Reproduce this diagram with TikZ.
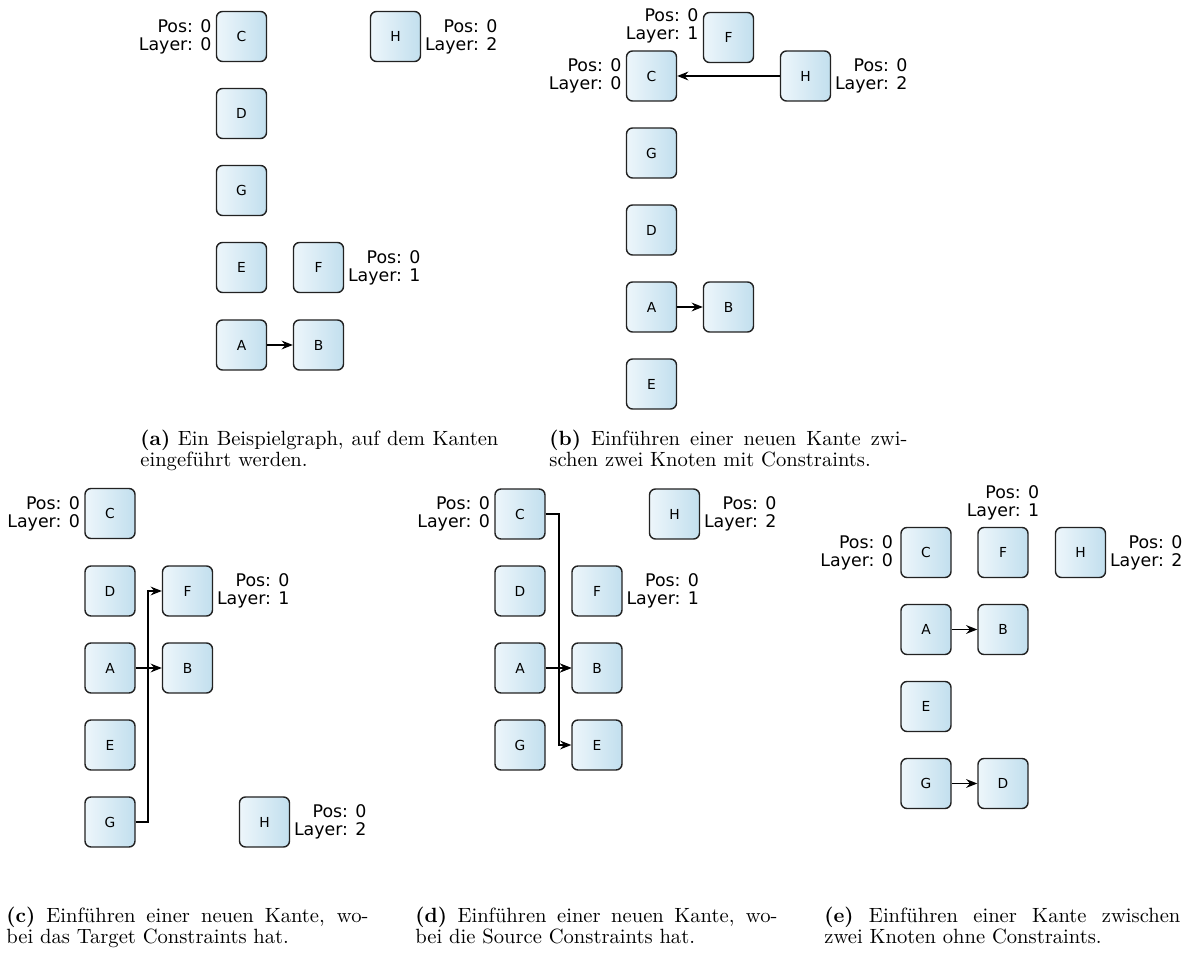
\documentclass[tikz,border=0pt]{standalone}
\usepackage{fontspec}
\newfontfamily\lblfont{DejaVu Sans}
\usetikzlibrary{arrows.meta,calc}
\definecolor{nodeL}{HTML}{EDF6FB}
\definecolor{nodeR}{HTML}{C2DFEE}
\definecolor{nodeBorder}{HTML}{222222}
\begin{document}
\begin{tikzpicture}[x=0.5pt,y=-0.5pt,
  knot/.style={draw=nodeBorder, line width=0.7pt, rounded corners=3pt,
    left color=nodeL, right color=nodeR, minimum width=25pt, minimum height=25pt,
    inner sep=0pt, font=\lblfont\fontsize{6.9}{8}\selectfont},
  info/.style={align=right, inner sep=0pt, font=\lblfont\fontsize{8.7}{9}\selectfont},
  infoL/.style={info, anchor=east, xshift=-2pt},
  infoR/.style={info, anchor=west, xshift=1.7pt},
  infoT/.style={info, anchor=south, yshift=3pt},
  edge/.style={line width=0.8pt, draw=black,
    -{Stealth[length=5.6pt,width=4.4pt,inset=1.9pt]}},
  captext/.style={anchor=base west, inner sep=0pt, font=\fontsize{10.3}{10.5}\selectfont}
]
\useasboundingbox (0,0) rectangle (1195,956);

% ---------- (a) ----------
\node[knot] (aC) at (241.5,36.5) {C};
\node[knot] (aH) at (395.5,36.5) {H};
\node[knot] (aD) at (241.5,113.5) {D};
\node[knot] (aG) at (241.5,190.5) {G};
\node[knot] (aE) at (241.5,267.5) {E};
\node[knot] (aF) at (318.5,267.5) {F};
\node[knot] (aA) at (241.5,345) {A};
\node[knot] (aB) at (318.5,345) {B};
\node[infoL] (aCl) at (aC.west) {Pos: 0\\Layer: 0};
\node[infoR] (aHl) at (aH.east) {Pos: 0\\Layer: 2};
\node[infoR] (aFl) at (aF.east) {Pos: 0\\Layer: 1};
\draw[edge] (aA) -- (aB);

% ---------- (b) ----------
\node[knot] (bC) at (651.5,76) {C};
\node[knot] (bF) at (728.5,37.5) {F};
\node[knot] (bH) at (805.5,76) {H};
\node[knot] (bG) at (651.5,153) {G};
\node[knot] (bD) at (651.5,230) {D};
\node[knot] (bA) at (651.5,307) {A};
\node[knot] (bB) at (728.5,307) {B};
\node[knot] (bE) at (651.5,384) {E};
\node[infoL, yshift=5.8pt] (bFl) at (bF.west) {Pos: 0\\Layer: 1};
\node[infoL] (bCl) at (bC.west) {Pos: 0\\Layer: 0};
\node[infoR] (bHl) at (bH.east) {Pos: 0\\Layer: 2};
\draw[edge] (bH) -- (bC);
\draw[edge] (bA) -- (bB);

% ---------- (c) ----------
\node[knot] (cC) at (110,513.5) {C};
\node[knot] (cD) at (110,591) {D};
\node[knot] (cF) at (187.5,591) {F};
\node[knot] (cA) at (110,668) {A};
\node[knot] (cB) at (187.5,668) {B};
\node[knot] (cE) at (110,745) {E};
\node[knot] (cG) at (110,822) {G};
\node[knot] (cH) at (264.5,822) {H};
\node[infoL] (cCl) at (cC.west) {Pos: 0\\Layer: 0};
\node[infoR] (cFl) at (cF.east) {Pos: 0\\Layer: 1};
\node[infoR] (cHl) at (cH.east) {Pos: 0\\Layer: 2};
\draw[edge] (cA) -- (cB);
\draw[edge] (cG.east) -- ($(cG.east)+(12.3,0)$) |- (cF.west);

% ---------- (d) ----------
\node[knot] (dC) at (520,514) {C};
\node[knot] (dH) at (674.5,514) {H};
\node[knot] (dD) at (520,591) {D};
\node[knot] (dF) at (597,591) {F};
\node[knot] (dA) at (520,668) {A};
\node[knot] (dB) at (597,668) {B};
\node[knot] (dG) at (520,745) {G};
\node[knot] (dE) at (597,745) {E};
\node[infoL] (dCl) at (dC.west) {Pos: 0\\Layer: 0};
\node[infoR] (dHl) at (dH.east) {Pos: 0\\Layer: 2};
\node[infoR] (dFl) at (dF.east) {Pos: 0\\Layer: 1};
\draw[edge] (dA) -- (dB);
\draw[edge] (dC.east) -- ($(dC.east)+(13,0)$) |- (dB.west);
\draw[edge] (dC.east) -- ($(dC.east)+(13,0)$) |- (dE.west);

% ---------- (e) ----------
\node[knot] (eC) at (926,552.5) {C};
\node[knot] (eF) at (1003,552.5) {F};
\node[knot] (eH) at (1080.5,552.5) {H};
\node[knot] (eA) at (926,629.5) {A};
\node[knot] (eB) at (1003,629.5) {B};
\node[knot] (eE) at (926,706.5) {E};
\node[knot] (eG) at (926,783.5) {G};
\node[knot] (eD) at (1003,783.5) {D};
\node[infoL, xshift=-1.5pt] (eCl) at (eC.west) {Pos: 0\\Layer: 0};
\node[infoT] (eFl) at (eF.north) {Pos: 0\\Layer: 1};
\node[infoR] (eHl) at (eH.east) {Pos: 0\\Layer: 2};
\draw[edge] (eA) -- (eB);
\draw[edge] (eG) -- (eD);

% ---------- captions ----------
\node[captext] (capA) at (140,446) {\parbox[t]{179pt}{\textbf{(a)} Ein Beispielgraph, auf dem Kanten\linebreak eingeführt werden.}};
\node[captext] (capB) at (549,446) {\parbox[t]{179pt}{\textbf{(b)} Einführen einer neuen Kante zwi-\linebreak schen zwei Knoten mit Constraints.}};
\node[captext] (capC) at (6,922) {\parbox[t]{181pt}{\textbf{(c)} Einführen einer neuen Kante, wo-\linebreak bei das Target Constraints hat.}};
\node[captext] (capD) at (415,922) {\parbox[t]{181pt}{\textbf{(d)} Einführen einer neuen Kante, wo-\linebreak bei die Source Constraints hat.}};
\node[captext] (capE) at (824,922) {\parbox[t]{178pt}{\textbf{(e)} Einführen einer Kante zwischen\linebreak zwei Knoten ohne Constraints.}};
\end{tikzpicture}
\end{document}
